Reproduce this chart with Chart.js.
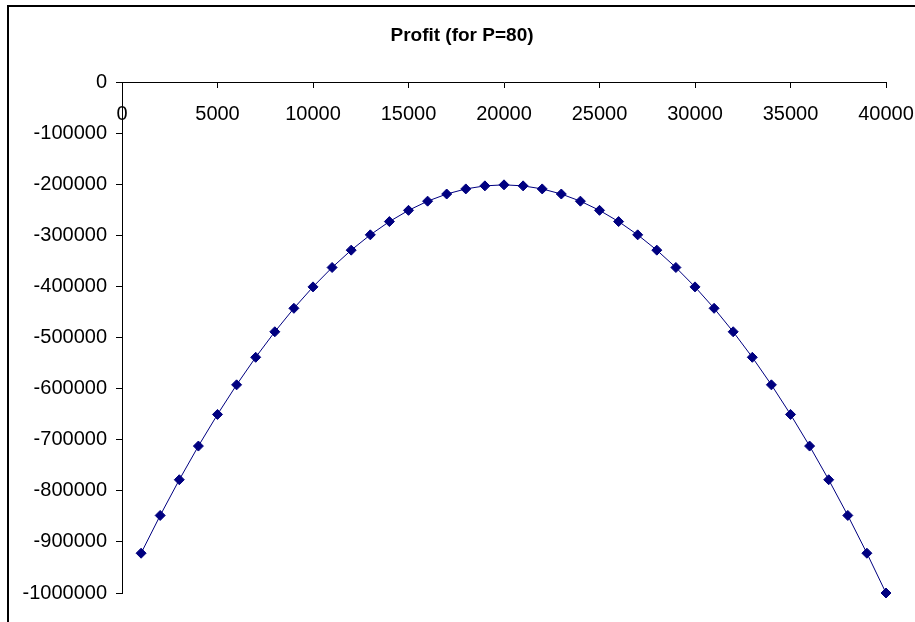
<!DOCTYPE html>
<html>
<head>
<meta charset="utf-8">
<script src="https://cdn.jsdelivr.net/npm/chart.js@4/dist/chart.umd.min.js"></script>
<style>
  html, body { margin: 0; padding: 0; background: #fff; }
  #wrap { width: 915px; height: 622px; position: relative; }
</style>
</head>
<body>
<div id="wrap"><canvas id="c" width="915" height="622"></canvas></div>
<script>
// Data
const quantities = [1000, 2000, 3000, 4000, 5000, 6000, 7000, 8000, 9000, 10000,
  11000, 12000, 13000, 14000, 15000, 16000, 17000, 18000, 19000, 20000,
  21000, 22000, 23000, 24000, 25000, 26000, 27000, 28000, 29000, 30000,
  31000, 32000, 33000, 34000, 35000, 36000, 37000, 38000, 39000, 40000];
const profit = [-922000, -848000, -778000, -712000, -650000, -592000, -538000, -488000, -442000, -400000,
  -362000, -328000, -298000, -272000, -250000, -232000, -218000, -208000, -202000, -200000,
  -202000, -208000, -218000, -232000, -250000, -272000, -298000, -328000, -362000, -400000,
  -442000, -488000, -538000, -592000, -650000, -712000, -778000, -848000, -922000, -1000000];
const xTickStep = 5000;
const yTickStep = 100000;
const chartTitle = 'Profit (for P=80)';

const frame = {
  id: 'frame',
  beforeDraw(chart) {
    const ctx = chart.ctx;
    ctx.save();
    ctx.fillStyle = '#fff';
    ctx.fillRect(0, 0, chart.width, chart.height);
    ctx.strokeStyle = '#000';
    ctx.lineWidth = 2;
    ctx.beginPath();
    ctx.moveTo(8, chart.height + 2);
    ctx.lineTo(8, 6);
    ctx.lineTo(chart.width + 2, 6);
    ctx.stroke();
    ctx.restore();
  }
};

new Chart(document.getElementById('c'), {
  type: 'line',
  data: {
    datasets: [{
      data: quantities.map((q, i) => ({ x: q, y: profit[i] })),
      borderColor: '#000080',
      backgroundColor: '#000080',
      borderWidth: 1,
      pointStyle: 'rectRot',
      pointRadius: 5,
      pointBorderWidth: 1,
      pointBorderColor: '#000080',
      pointBackgroundColor: '#000080',
      tension: 0,
      clip: false
    }]
  },
  options: {
    responsive: false,
    animation: false,
    devicePixelRatio: 1,
    layout: { padding: { left: 9, right: 0, top: 0, bottom: 29 } },
    plugins: {
      legend: { display: false },
      tooltip: { enabled: false },
      title: {
        display: true,
        text: chartTitle,
        color: '#000',
        font: { family: '"Liberation Sans", Arial, sans-serif', size: 19, weight: 'bold', lineHeight: 1.2 },
        padding: { top: 24, bottom: 36 }
      }
    },
    scales: {
      x: {
        type: 'linear',
        position: { y: 0 },
        min: 0,
        max: 40000,
        afterFit: s => { s.paddingLeft = 0; s.paddingRight = 29; },
        grid: { display: true, drawOnChartArea: false, drawTicks: true, tickLength: 5, color: '#000', lineWidth: 1 },
        border: { display: true, color: '#000', width: 1 },
        ticks: {
          stepSize: xTickStep,
          autoSkip: false,
          maxRotation: 0,
          padding: 15,
          color: '#000',
          font: { family: '"Liberation Sans", Arial, sans-serif', size: 20 },
          callback: v => String(v)
        }
      },
      y: {
        type: 'linear',
        position: 'left',
        min: -1000000,
        max: 0,
        afterFit: s => { s.width = 113; },
        grid: { display: true, drawOnChartArea: false, drawTicks: true, tickLength: 6, color: '#000', lineWidth: 1 },
        border: { display: true, color: '#000', width: 1 },
        ticks: {
          stepSize: yTickStep,
          autoSkip: false,
          padding: 9,
          color: '#000',
          font: { family: '"Liberation Sans", Arial, sans-serif', size: 20 },
          callback: v => String(v)
        }
      }
    }
  },
  plugins: [frame]
});
</script>
</body>
</html>
